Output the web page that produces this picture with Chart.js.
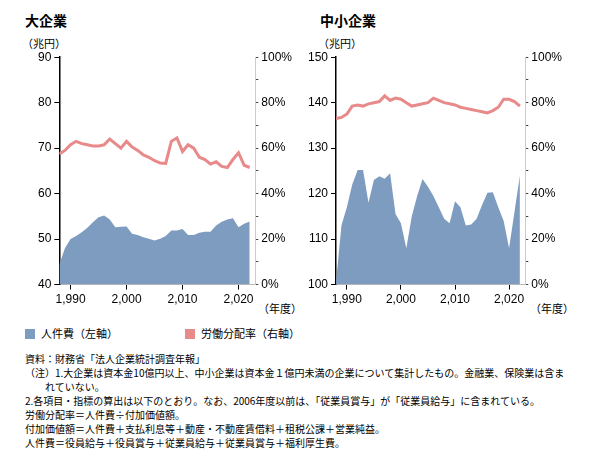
<!DOCTYPE html>
<html><head><meta charset="utf-8">
<script src="https://cdn.jsdelivr.net/npm/chart.js@4"></script>
<style>
body{margin:0;background:#fff;font-family:"Noto Sans CJK JP","Noto Sans",sans-serif;color:#000;}
.t{position:absolute;font-size:11px;white-space:nowrap;}
.h{position:absolute;font-size:14px;font-weight:bold;}
.c{position:absolute;}
.notes{position:absolute;left:25px;top:352px;font-size:10px;line-height:14px;}
.sw{display:inline-block;width:10px;height:10px;vertical-align:-1px;margin-right:6px;}
</style></head><body>
<div class="h" style="left:25px;top:10px">大企業</div>
<div class="h" style="left:320px;top:10px">中小企業</div>
<div class="t" style="left:22px;top:35px">（兆円）</div>
<div class="t" style="left:318px;top:35px">（兆円）</div>
<div class="t" style="left:258px;top:300px">（年度）</div>
<div class="t" style="left:530px;top:300px">（年度）</div>
<div class="c" style="left:15px;top:47px;width:280px;height:263px"><canvas id="big"></canvas></div>
<div class="c" style="left:300px;top:47px;width:265px;height:263px"><canvas id="small"></canvas></div>
<div class="t" style="left:25px;top:325px"><span class="sw" style="background:#7d9cc0"></span>人件費（左軸）</div>
<div class="t" style="left:185px;top:325px"><span class="sw" style="background:#e8898a"></span>労働分配率（右軸）</div>
<div class="notes">
資料：財務省「法人企業統計調査年報」<br>
（注）1.大企業は資本金10億円以上、中小企業は資本金１億円未満の企業について集計したもの。金融業、保険業は含ま<br>
　　れていない。<br>
2.各項目・指標の算出は以下のとおり。なお、2006年度以前は、「従業員賞与」が「従業員給与」に含まれている。<br>
労働分配率＝人件費÷付加価値額。<br>
付加価値額＝人件費＋支払利息等＋動産・不動産賃借料＋租税公課＋営業純益。<br>
人件費＝役員給与＋役員賞与＋従業員給与＋従業員賞与＋福利厚生費。
</div>
<script>
var years = [];
for (var y = 1988; y <= 2022; y++) years.push(y);
var yearTicks = [1990, 2000, 2010, 2020];

var bigCost = [44.5, 48, 50, 50.7, 51.5, 52.5, 53.7, 54.8, 55.2, 54.3, 52.6, 52.7, 52.8, 51.2, 50.9, 50.4, 50.1, 49.7, 50.1, 50.7, 51.9, 51.9, 52.2, 50.9, 50.9, 51.4, 51.6, 51.6, 53, 53.8, 54.3, 54.6, 52.6, 53.4, 53.9];
var bigRatio = [57.5, 59, 61.5, 63, 62, 61.5, 61, 61, 61.5, 64, 62, 60, 63, 60.5, 59, 57, 56, 54.5, 53.5, 53.3, 63, 64.5, 58.5, 61.5, 60, 56, 55, 53, 54, 52, 51.5, 55, 58, 52.5, 51.5];
var smallCost = [100.5, 113, 117, 122, 125.2, 125.2, 118, 123, 123.8, 123.3, 124.5, 115.5, 113.5, 108, 115, 119.5, 123.2, 121.5, 119.5, 117, 114.5, 113.5, 118.3, 117, 113, 113.2, 114.5, 117.5, 120.2, 120.3, 117, 114, 108, 116, 124];
var smallRatio = [73, 73.5, 75, 78.5, 79, 78.5, 79.5, 80, 80.5, 83, 81, 82, 81.5, 80, 78.5, 79, 79.5, 80, 82, 81, 80, 79.5, 79, 78, 77.5, 77, 76.5, 76, 75.5, 76.5, 78, 81.5, 81.5, 80.5, 78.5];

function pts(vals) {
    return vals.map(function(v, i) { return {x: years[i], y: v}; });
}

function makeChart(id, cost, ratio, yMin, yMax, padLeft) {
    new Chart(document.getElementById(id), {
        type: 'line',
        data: {
            datasets: [{
                data: pts(ratio),
                yAxisID: 'y2',
                borderColor: '#e8898a',
                borderWidth: 3,
                pointRadius: 0,
                fill: false,
                order: 0
            }, {
                data: pts(cost),
                yAxisID: 'y',
                borderWidth: 0,
                backgroundColor: '#7d9cc0',
                pointRadius: 0,
                fill: 'start',
                order: 1
            }]
        },
        options: {
            responsive: true,
            maintainAspectRatio: false,
            animation: false,
            layout: {padding: {left: padLeft, top: 4}},
            plugins: {legend: {display: false}, tooltip: {enabled: false}},
            scales: {
                x: {
                    type: 'linear', min: 1988, max: 2023,
                    afterBuildTicks: function(axis) { axis.ticks = yearTicks.map(function(v) { return {value: v}; }); },
                    ticks: {color: '#000', font: {size: 12}},
                    grid: {drawOnChartArea: false, tickLength: 5, color: '#000'},
                    border: {color: '#bbb'}
                },
                y: {
                    min: yMin, max: yMax,
                    ticks: {stepSize: 10, color: '#000', font: {size: 12}},
                    grid: {drawOnChartArea: false, tickLength: 5, color: '#000'},
                    border: {color: '#000', width: 1.5}
                },
                y2: {
                    position: 'right', min: 0, max: 100,
                    ticks: {stepSize: 5, color: '#000', font: {size: 12},
                        callback: function(v) { return v % 20 === 0 ? v + '%' : ''; }},
                    grid: {drawOnChartArea: false, tickLength: 3, color: '#444'},
                    border: {color: '#ccc'}
                }
            }
        }
    });
}

makeChart('big', bigCost, bigRatio, 40, 90, 20);
makeChart('small', smallCost, smallRatio, 100, 150, 5);
</script>
</body></html>
